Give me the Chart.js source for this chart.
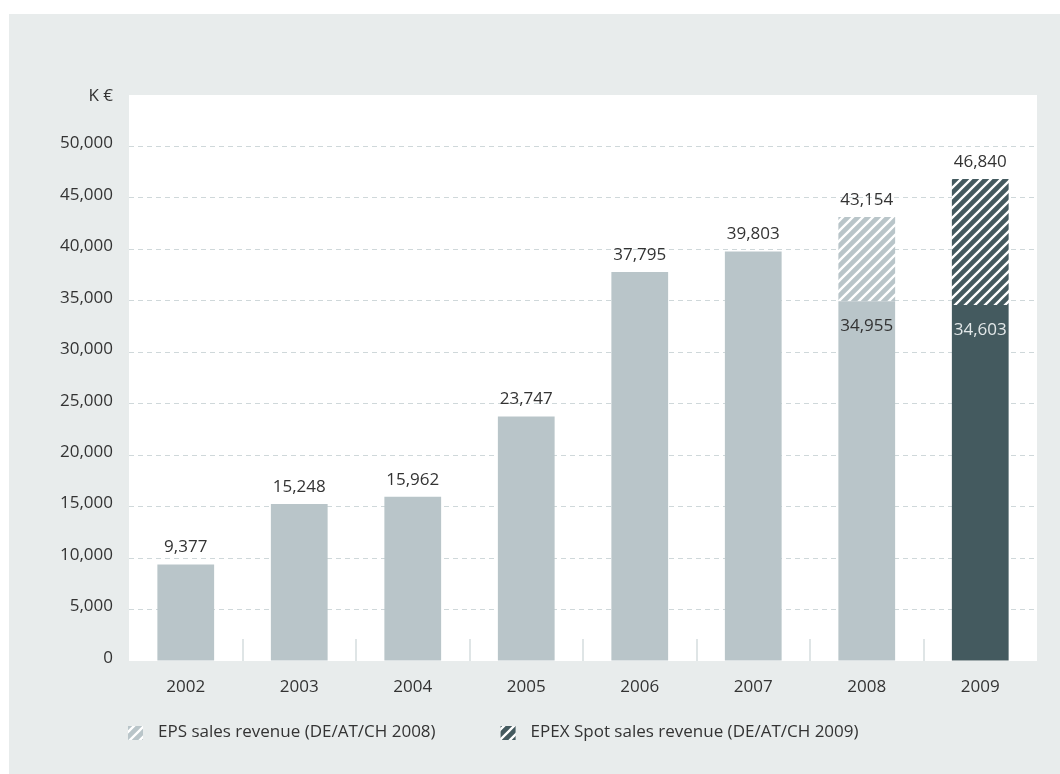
<!DOCTYPE html>
<html>
<head>
<meta charset="utf-8">
<script src="https://cdn.jsdelivr.net/npm/chart.js@4/dist/chart.umd.min.js"></script>
<style>
  html, body { margin: 0; padding: 0; background: #fff; }
  canvas { display: block; }
</style>
</head>
<body>
<canvas id="revenueChart" width="1060" height="774"></canvas>
<script>
// values (K €)
const years = ["2002", "2003", "2004", "2005", "2006", "2007", "2008", "2009"];
const totalRevenue = [9377, 15248, 15962, 23747, 37795, 39803, 43154, 46840];
const baseRevenue = [9377, 15248, 15962, 23747, 37795, 39803, 34955, 34603];
const yTicks = [0, 5000, 10000, 15000, 20000, 25000, 30000, 35000, 40000, 45000, 50000];
const legendLabels = ["EPS sales revenue (DE/AT/CH 2008)", "EPEX Spot sales revenue (DE/AT/CH 2009)"];

const LIGHT = "#b9c5c9";
const DARK = "#445a5f";
const TEXT = "#333";
const FONT = "'Open Sans', sans-serif";
const FSIZE = 17;

const ctx = document.getElementById("revenueChart").getContext("2d");

// diagonal white stripes on a coloured tile
function hatch(color) {
  const c = document.createElement("canvas");
  c.width = 10; c.height = 10;
  const g = c.getContext("2d");
  g.fillStyle = color;
  g.fillRect(0, 0, 10, 10);
  g.strokeStyle = "#fff";
  g.lineWidth = 2.3;
  g.beginPath();
  g.moveTo(-2, 12); g.lineTo(12, -2);
  g.moveTo(-2, 2); g.lineTo(2, -2);
  g.moveTo(8, 12); g.lineTo(12, 8);
  g.stroke();
  return ctx.createPattern(c, "repeat");
}
const lightHatch = hatch(LIGHT);
const darkHatch = hatch(DARK);

const lastIdx = years.length - 1;
const topPart = totalRevenue.map((t, i) => (t - baseRevenue[i] > 0 ? t - baseRevenue[i] : null));

const background = {
  id: "background",
  beforeDraw(chart) {
    const c = chart.ctx, a = chart.chartArea;
    c.save();
    c.fillStyle = "#e8ecec";
    c.fillRect(9, 14, chart.width - 9, chart.height - 14);
    c.fillStyle = "#fff";
    c.fillRect(a.left, a.top, a.right - a.left, a.bottom - a.top);
    c.restore();
  },
  beforeDatasetsDraw(chart) {
    // short separators between the years, at the bottom of the plot
    const c = chart.ctx, x = chart.scales.x, a = chart.chartArea;
    c.save();
    c.strokeStyle = "#dfe5e6";
    c.lineWidth = 2;
    for (let i = 0; i < years.length - 1; i++) {
      const px = Math.round((x.getPixelForValue(i) + x.getPixelForValue(i + 1)) / 2);
      c.beginPath();
      c.moveTo(px, a.bottom - 22);
      c.lineTo(px, a.bottom);
      c.stroke();
    }
    c.restore();
  }
};

const labels = {
  id: "labels",
  afterDatasetsDraw(chart) {
    const c = chart.ctx, x = chart.scales.x, y = chart.scales.y;
    c.save();
    c.font = FSIZE + "px " + FONT;
    c.textAlign = "center";
    c.textBaseline = "middle";
    totalRevenue.forEach((v, i) => {
      const px = x.getPixelForValue(i);
      c.fillStyle = TEXT;
      c.fillText(v.toLocaleString("en-US"), px, y.getPixelForValue(v) - 17);
      if (topPart[i]) {
        c.fillStyle = i === lastIdx ? "#e3e8e9" : TEXT;
        c.fillText(baseRevenue[i].toLocaleString("en-US"), px, y.getPixelForValue(baseRevenue[i]) + 25);
      }
    });
    // unit label at the top of the value axis
    c.textAlign = "right";
    c.fillStyle = TEXT;
    c.fillText("K €", chart.chartArea.left - 16, y.getPixelForValue(55000) + 1);

    // legend
    let lx = chart.chartArea.left - 1;
    const ly = 733;
    [lightHatch, darkHatch].forEach((pat, i) => {
      c.fillStyle = pat;
      c.fillRect(lx, ly - 7, 15, 14);
      c.fillStyle = TEXT;
      c.textAlign = "left";
      c.fillText(legendLabels[i], lx + 30, ly - 1);
      lx += 30 + c.measureText(legendLabels[i]).width + 65;
    });
    c.restore();
  }
};

new Chart(ctx, {
  type: "bar",
  data: {
    labels: years,
    datasets: [
      {
        label: "Sales revenue",
        data: baseRevenue,
        backgroundColor: years.map((_, i) => (i === lastIdx ? DARK : LIGHT)),
        borderWidth: 0
      },
      {
        label: "Sales revenue (DE/AT/CH)",
        data: topPart,
        backgroundColor: years.map((_, i) => (i === lastIdx ? darkHatch : lightHatch)),
        borderWidth: 0
      }
    ]
  },
  options: {
    responsive: false,
    devicePixelRatio: 1,
    animation: false,
    layout: { padding: { left: 9, top: 95, right: 23, bottom: 61 } },
    datasets: { bar: { barPercentage: 0.5, categoryPercentage: 1 } },
    plugins: {
      legend: { display: false },
      tooltip: { enabled: false }
    },
    scales: {
      x: {
        stacked: true,
        grid: { display: false },
        border: { display: false },
        ticks: { color: TEXT, font: { family: FONT, size: FSIZE }, padding: 8 },
        afterFit: (s) => { s.height = 52; }
      },
      y: {
        stacked: true,
        min: 0,
        max: 55000,
        afterBuildTicks: (s) => { s.ticks = yTicks.concat([55000]).map((v) => ({ value: v })); },
        grid: {
          drawTicks: false,
          color: (c) => (c.tick && (c.tick.value === 0 || c.tick.value === 55000) ? "rgba(0,0,0,0)" : "#cfd8da")
        },
        border: { display: false, dash: [5, 4] },
        ticks: {
          color: TEXT,
          font: { family: FONT, size: FSIZE },
          padding: 16,
          labelOffset: -3,
          callback: (v) => (v === 55000 ? "" : v.toLocaleString("en-US"))
        },
        afterFit: (s) => { s.width = 120; }
      }
    }
  },
  plugins: [background, labels]
});
</script>
</body>
</html>
